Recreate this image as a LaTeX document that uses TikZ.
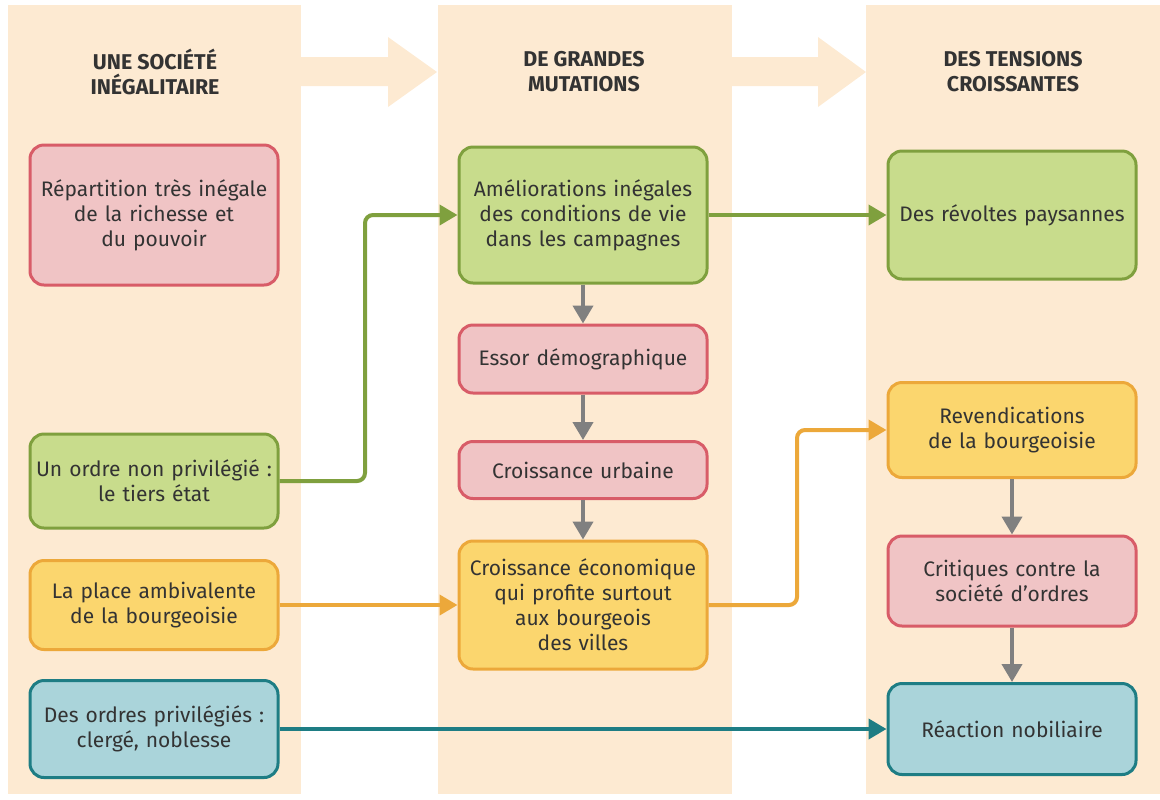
\documentclass[tikz,border=0pt]{standalone}
\usepackage{fontspec}
\setmainfont{Fira Sans}
\usetikzlibrary{arrows.meta}

\definecolor{beige}{HTML}{FDEAD2}
\definecolor{txt}{HTML}{333333}
\definecolor{redfill}{HTML}{F0C4C5}
\definecolor{redline}{HTML}{D85C68}
\definecolor{greenfill}{HTML}{C8DC8C}
\definecolor{greenline}{HTML}{7FA03E}
\definecolor{yellowfill}{HTML}{FBD66E}
\definecolor{yellowline}{HTML}{ECA83A}
\definecolor{tealfill}{HTML}{AAD4DA}
\definecolor{tealline}{HTML}{1E7D84}
\definecolor{grayline}{HTML}{808080}

\begin{document}
\begin{tikzpicture}[x=0.5pt,y=-0.5pt]
\tikzstyle{panel}=[fill=beige,draw=none]
\tikzstyle{title}=[text=txt,align=center,font=\fontsize{10.7}{12.5}\selectfont\bfseries]
\tikzstyle{box}=[rounded corners=7pt,line width=1.5pt,minimum width=124pt,text width=120pt,align=center,inner sep=0pt,text=txt,font=\fontsize{10.5}{12.5}\selectfont]
\tikzstyle{redbox}=[box,fill=redfill,draw=redline]
\tikzstyle{greenbox}=[box,fill=greenfill,draw=greenline]
\tikzstyle{yellowbox}=[box,fill=yellowfill,draw=yellowline]
\tikzstyle{tealbox}=[box,fill=tealfill,draw=tealline]
\tikzstyle{link}=[line width=2pt,rounded corners=4pt,-{Triangle[length=9pt,width=10pt]}]

	\useasboundingbox (0,0) rectangle (1160,799);

	% columns
	\fill[panel] (8,5) rectangle (301,794);
	\fill[panel] (438,5) rectangle (732,794);
	\fill[panel] (866,5) rectangle (1160,794);

	\fill[panel] plot[] coordinates { (301,57) (388,57) (388,37) (437,72) (388,107) (388,86) (301,86) } -- cycle;
	\fill[panel] plot[] coordinates { (732,57) (818,57) (818,37) (866,72) (818,107) (818,86) (732,86) } -- cycle;

	\node (t1) [title] at (155,72) {UNE SOCIÉTÉ\\INÉGALITAIRE};
	\node (t2) [title] at (584,72) {DE GRANDES\\MUTATIONS};
	\node (t3) [title] at (1013,72) {DES TENSIONS\\CROISSANTES};

	% first column
	\node (repart) [redbox,minimum height=70pt] at (154,215) {Répartition très inégale\\de la richesse et\\du pouvoir};
	\node (tiers) [greenbox,minimum height=47pt] at (154,481) {Un ordre non privilégié :\\le tiers état};
	\node (place) [yellowbox,minimum height=44.5pt] at (154,605) {La place ambivalente\\de la bourgeoisie};
	\node (privil) [tealbox,minimum height=48.5pt] at (154,729) {Des ordres privilégiés :\\clergé, noblesse};

	% second column
	\node (amelio) [greenbox,minimum height=68pt] at (583,215) {Améliorations inégales\\des conditions de vie\\dans les campagnes};
	\node (essor) [redbox,minimum height=34pt] at (583,359) {Essor démographique};
	\node (urbaine) [redbox,minimum height=28.5pt] at (583,470) {Croissance urbaine};
	\node (eco) [yellowbox,minimum height=64pt] at (583,605) {Croissance économique\\qui profite surtout\\aux bourgeois\\des villes};

	% third column
	\node (revoltes) [greenbox,minimum height=64pt] at (1012,215) {Des révoltes paysannes};
	\node (revend) [yellowbox,minimum height=47.5pt] at (1012,430) {Revendications\\de la bourgeoisie};
	\node (critiques) [redbox,minimum height=45pt] at (1012,581) {Critiques contre la\\société d’ordres};
	\node (reaction) [tealbox,minimum height=45.5pt] at (1012,729) {Réaction nobiliaire};

	\coordinate (gbend) at (365,350);
	\coordinate (obend) at (797,520);

	\draw [link,greenline] (tiers.east) -| (gbend) |- (amelio.west);
	\draw [link,greenline] (amelio.east) -- (revoltes.west);
	\draw [link,yellowline] (place.east) -- (eco.west);
	\draw [link,yellowline] (eco.east) -| (obend) |- (revend.west);
	\draw [link,tealline] (privil.east) -- (reaction.west);

	\draw [link,grayline] (amelio.south) -- (essor.north);
	\draw [link,grayline] (essor.south) -- (urbaine.north);
	\draw [link,grayline] (urbaine.south) -- (eco.north);
	\draw [link,grayline] (revend.south) -- (critiques.north);
	\draw [link,grayline] (critiques.south) -- (reaction.north);

\end{tikzpicture}
\end{document}
